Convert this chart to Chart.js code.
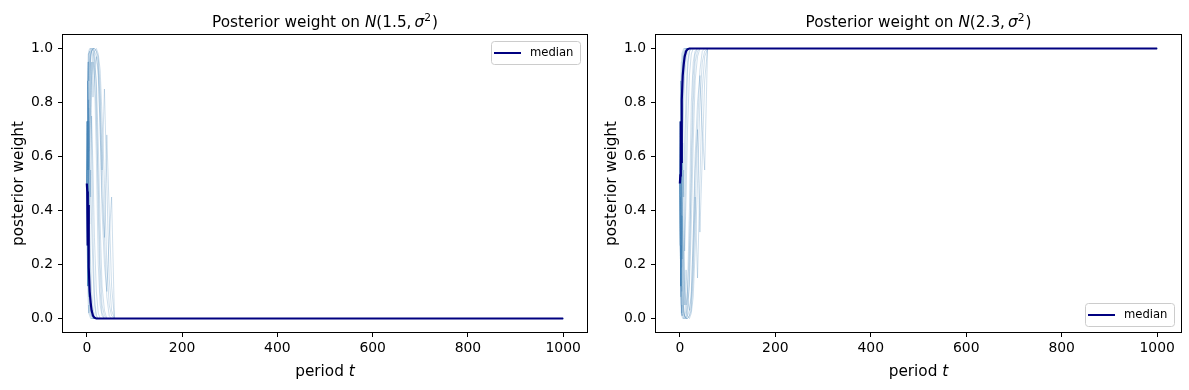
<!DOCTYPE html>
<html>
<head>
<meta charset="utf-8">
<script src="https://cdn.jsdelivr.net/npm/chart.js@4.4.1/dist/chart.umd.min.js"></script>
<style>
  html, body { margin: 0; padding: 0; background: #fff; }
  #wrap { position: relative; width: 1189px; height: 390px; overflow: hidden; }
  canvas { position: absolute; top: 0; }
</style>
</head>
<body>
<div id="wrap">
  <canvas id="left" width="593" height="390" style="left:0"></canvas>
  <canvas id="right" width="596" height="390" style="left:593px"></canvas>
</div>
<script>
// periods t at which each simulated path is sampled (flat after the last early point)
const periods = [0, 1, 2, 3, 4, 6, 8, 10, 13, 16, 20, 24, 28, 32, 37, 42, 47, 52, 58, 1000];

const xTicks = [0, 200, 400, 600, 800, 1000];
const yTicks = [0, 0.2, 0.4, 0.6, 0.8, 1.0];
const titleMeans = ['1.5', '2.3'];
const medianLabel = 'median';

// posterior weight on N(1.5, sigma^2), one row per simulated path
const pathsLow = [
    [0.5, 0.73, 0.92, 0.98, 0.99, 1.0, 1.0, 0.99, 0.97, 0.9, 0.6, 0.2, 0.05, 0.01, 0, 0, 0, 0, 0, 0],
    [0.5, 0.27, 0.45, 0.19, 0.08, 0.02, 0.01, 0, 0, 0, 0, 0, 0, 0, 0, 0, 0, 0, 0, 0],
    [0.5, 0.73, 0.55, 0.81, 0.62, 0.85, 0.95, 0.99, 1.0, 0.98, 0.85, 0.4, 0.1, 0.02, 0, 0, 0, 0, 0, 0],
    [0.5, 0.27, 0.12, 0.27, 0.45, 0.62, 0.45, 0.75, 0.55, 0.3, 0.1, 0.02, 0, 0, 0, 0, 0, 0, 0, 0],
    [0.5, 0.73, 0.88, 0.73, 0.9, 0.97, 0.99, 1.0, 1.0, 1.0, 0.99, 0.95, 0.8, 0.55, 0.85, 0.5, 0.15, 0.03, 0, 0],
    [0.5, 0.27, 0.45, 0.62, 0.45, 0.27, 0.12, 0.05, 0.01, 0, 0, 0, 0, 0, 0, 0, 0, 0, 0, 0],
    [0.5, 0.73, 0.55, 0.35, 0.55, 0.73, 0.88, 0.95, 0.82, 0.93, 0.97, 0.9, 0.7, 0.45, 0.3, 0.68, 0.4, 0.12, 0, 0],
    [0.5, 0.73, 0.88, 0.95, 0.98, 0.99, 0.95, 0.7, 0.3, 0.08, 0.01, 0, 0, 0, 0, 0, 0, 0, 0, 0],
    [0.5, 0.27, 0.45, 0.62, 0.78, 0.9, 0.97, 0.99, 1.0, 0.99, 0.97, 0.92, 0.7, 0.4, 0.2, 0.1, 0.3, 0.45, 0, 0],
    [0.5, 0.27, 0.12, 0.05, 0.02, 0.01, 0, 0, 0, 0, 0, 0, 0, 0, 0, 0, 0, 0, 0, 0],
    [0.5, 0.73, 0.55, 0.73, 0.55, 0.35, 0.55, 0.35, 0.18, 0.05, 0.01, 0, 0, 0, 0, 0, 0, 0, 0, 0],
    [0.5, 0.73, 0.88, 0.95, 0.88, 0.95, 0.98, 0.99, 1.0, 1.0, 0.99, 0.97, 0.85, 0.6, 0.3, 0.08, 0.01, 0, 0, 0],
    [0.5, 0.27, 0.45, 0.27, 0.45, 0.62, 0.78, 0.88, 0.95, 0.9, 0.75, 0.5, 0.2, 0.05, 0.01, 0, 0, 0, 0, 0],
    [0.5, 0.73, 0.88, 0.73, 0.55, 0.35, 0.2, 0.1, 0.04, 0.01, 0, 0, 0, 0, 0, 0, 0, 0, 0, 0],
    [0.5, 0.27, 0.45, 0.62, 0.78, 0.62, 0.78, 0.9, 0.97, 0.99, 1.0, 0.98, 0.92, 0.75, 0.5, 0.2, 0.05, 0.01, 0, 0],
    [0.5, 0.73, 0.88, 0.95, 0.98, 0.99, 1.0, 1.0, 0.99, 0.96, 0.88, 0.65, 0.35, 0.12, 0.03, 0, 0, 0, 0, 0],
    [0.5, 0.27, 0.12, 0.27, 0.12, 0.05, 0.02, 0.01, 0, 0, 0, 0, 0, 0, 0, 0, 0, 0, 0, 0],
    [0.5, 0.73, 0.55, 0.35, 0.2, 0.08, 0.03, 0.01, 0, 0, 0, 0, 0, 0, 0, 0, 0, 0, 0, 0]
];
const medianLow = [0.5, 0.47, 0.27, 0.42, 0.19, 0.1, 0.06, 0.03, 0.01, 0.003, 0, 0, 0, 0, 0, 0, 0, 0, 0, 0];

// posterior weight on N(2.3, sigma^2)
const pathsHigh = [
    [0.5, 0.27, 0.08, 0.02, 0.01, 0, 0, 0.01, 0.03, 0.1, 0.4, 0.8, 0.95, 0.99, 1, 1, 1, 1, 1, 1],
    [0.5, 0.73, 0.55, 0.81, 0.92, 0.98, 0.99, 1, 1, 1, 1, 1, 1, 1, 1, 1, 1, 1, 1, 1],
    [0.5, 0.27, 0.45, 0.19, 0.38, 0.15, 0.05, 0.01, 0, 0.02, 0.15, 0.6, 0.9, 0.98, 1, 1, 1, 1, 1, 1],
    [0.5, 0.73, 0.88, 0.73, 0.55, 0.38, 0.55, 0.25, 0.45, 0.7, 0.9, 0.98, 1, 1, 1, 1, 1, 1, 1, 1],
    [0.5, 0.27, 0.12, 0.27, 0.1, 0.03, 0.01, 0, 0, 0, 0.01, 0.05, 0.2, 0.45, 0.15, 0.5, 0.85, 0.97, 1, 1],
    [0.5, 0.73, 0.55, 0.38, 0.55, 0.73, 0.88, 0.95, 0.99, 1, 1, 1, 1, 1, 1, 1, 1, 1, 1, 1],
    [0.5, 0.27, 0.45, 0.65, 0.45, 0.27, 0.12, 0.05, 0.18, 0.07, 0.03, 0.1, 0.3, 0.55, 0.7, 0.32, 0.6, 0.88, 1, 1],
    [0.5, 0.27, 0.12, 0.05, 0.02, 0.01, 0.05, 0.3, 0.7, 0.92, 0.99, 1, 1, 1, 1, 1, 1, 1, 1, 1],
    [0.5, 0.73, 0.55, 0.38, 0.22, 0.1, 0.03, 0.01, 0, 0.01, 0.03, 0.08, 0.3, 0.6, 0.8, 0.9, 0.7, 0.55, 1, 1],
    [0.5, 0.73, 0.88, 0.95, 0.98, 0.99, 1, 1, 1, 1, 1, 1, 1, 1, 1, 1, 1, 1, 1, 1],
    [0.5, 0.27, 0.45, 0.27, 0.45, 0.65, 0.45, 0.65, 0.82, 0.95, 0.99, 1, 1, 1, 1, 1, 1, 1, 1, 1],
    [0.5, 0.27, 0.12, 0.05, 0.12, 0.05, 0.02, 0.01, 0, 0, 0.01, 0.03, 0.15, 0.4, 0.7, 0.92, 0.99, 1, 1, 1],
    [0.5, 0.73, 0.55, 0.73, 0.55, 0.38, 0.22, 0.12, 0.05, 0.1, 0.25, 0.5, 0.8, 0.95, 0.99, 1, 1, 1, 1, 1],
    [0.5, 0.27, 0.12, 0.27, 0.45, 0.65, 0.8, 0.9, 0.96, 0.99, 1, 1, 1, 1, 1, 1, 1, 1, 1, 1],
    [0.5, 0.73, 0.55, 0.38, 0.22, 0.38, 0.22, 0.1, 0.03, 0.01, 0, 0.02, 0.08, 0.25, 0.5, 0.8, 0.95, 0.99, 1, 1],
    [0.5, 0.27, 0.12, 0.05, 0.02, 0.01, 0, 0, 0.01, 0.04, 0.12, 0.35, 0.65, 0.88, 0.97, 1, 1, 1, 1, 1],
    [0.5, 0.73, 0.88, 0.73, 0.88, 0.95, 0.98, 0.99, 1, 1, 1, 1, 1, 1, 1, 1, 1, 1, 1, 1],
    [0.5, 0.27, 0.45, 0.65, 0.8, 0.92, 0.97, 0.99, 1, 1, 1, 1, 1, 1, 1, 1, 1, 1, 1, 1]
];
const medianHigh = [0.5, 0.53, 0.73, 0.58, 0.81, 0.9, 0.94, 0.97, 0.99, 0.997, 1, 1, 1, 1, 1, 1, 1, 1, 1, 1];

const FONT = '"DejaVu Sans", sans-serif';
const NAVY = '#000080';
const PATH_COLOR = 'rgba(70, 130, 180, 0.26)';

// ============ HELPERS ============

function toPoints(values) {
    return periods.map((t, i) => ({ x: t, y: values[i] }));
}

function buildDatasets(paths, median) {
    // index 0 is drawn last, so the median sits on top
    const sets = [{
        label: medianLabel,
        data: toPoints(median),
        borderColor: NAVY,
        borderWidth: 2.2,
        pointRadius: 0,
    }];
    paths.forEach((p, i) => {
        sets.push({
            label: 'path ' + (i + 1),
            data: toPoints(p),
            borderColor: PATH_COLOR,
            borderWidth: 1,
            pointRadius: 0,
        });
    });
    return sets;
}

function drawRich(ctx, parts, cx, y) {
    let total = 0;
    const widths = parts.map(p => {
        ctx.font = p.font;
        const w = ctx.measureText(p.text).width + (p.dx || 0);
        total += w;
        return w;
    });
    let x = cx - total / 2;
    ctx.textAlign = 'left';
    ctx.textBaseline = 'alphabetic';
    ctx.fillStyle = '#000';
    parts.forEach((p, i) => {
        ctx.font = p.font;
        ctx.fillText(p.text, x + (p.dx || 0), y + (p.dy || 0));
        x += widths[i];
    });
}

function titleParts(mean) {
    return [
        { text: 'Posterior weight on ', font: `15.3px ${FONT}` },
        { text: 'N', font: `italic 15.3px ${FONT}` },
        { text: `(${mean},`, font: `15.3px ${FONT}` },
        { text: '\u03c3', font: `italic 15.3px ${FONT}`, dx: 3 },
        { text: '2', font: `10.7px ${FONT}`, dy: -6 },
        { text: ')', font: `15.3px ${FONT}`, dx: 1 },
    ];
}

const xLabelParts = [
    { text: 'period ', font: `15.3px ${FONT}` },
    { text: 't', font: `italic 15.3px ${FONT}` },
];

function decorations(mean, legendAtTop) {
    return {
        id: 'decorations',
        afterDraw(chart) {
            const { ctx, chartArea: a } = chart;
            const cx = (a.left + a.right) / 2;
            ctx.save();

            // axes frame
            ctx.strokeStyle = '#000';
            ctx.lineWidth = 1;
            ctx.strokeRect(Math.round(a.left) - 0.5, Math.round(a.top) - 0.5,
                Math.round(a.right - a.left) + 1, Math.round(a.bottom - a.top) + 1);

            drawRich(ctx, titleParts(mean), cx, 27);
            drawRich(ctx, xLabelParts, cx, 376);

            // legend
            const w = 89, h = 23;
            const bx = a.right - 7 - w;
            const by = legendAtTop ? a.top + 6 : a.bottom - 6 - h;
            ctx.beginPath();
            ctx.roundRect(bx + 0.5, by + 0.5, w, h, 3);
            ctx.fillStyle = 'rgba(255,255,255,0.8)';
            ctx.fill();
            ctx.strokeStyle = '#cccccc';
            ctx.stroke();
            const ly = by + h / 2 + 0.5;
            ctx.beginPath();
            ctx.moveTo(bx + 3, ly);
            ctx.lineTo(bx + 30, ly);
            ctx.strokeStyle = NAVY;
            ctx.lineWidth = 2;
            ctx.stroke();
            ctx.font = `11.6px ${FONT}`;
            ctx.fillStyle = '#000';
            ctx.textAlign = 'left';
            ctx.textBaseline = 'middle';
            ctx.fillText(medianLabel, bx + 39, ly);

            ctx.restore();
        }
    };
}

function axisGrid() {
    return {
        drawOnChartArea: false,
        drawTicks: true,
        tickLength: 5,
        tickColor: '#000',
        color: '#000',
        lineWidth: 1,
    };
}

function createChart(canvasId, paths, median, mean, legendAtTop, padRight) {
    return new Chart(document.getElementById(canvasId), {
        type: 'line',
        data: { datasets: buildDatasets(paths, median) },
        options: {
            responsive: false,
            animation: false,
            events: [],
            layout: { padding: { left: 0, right: padRight, top: 35, bottom: 0 } },
            plugins: {
                legend: { display: false },
                title: { display: false },
                tooltip: { enabled: false },
            },
            scales: {
                x: {
                    type: 'linear',
                    min: -50,
                    max: 1050,
                    afterBuildTicks: s => { s.ticks = xTicks.map(v => ({ value: v })); },
                    afterFit: s => { s.height = 58; },
                    ticks: {
                        font: { family: FONT, size: 13.9 },
                        color: '#000',
                        padding: 3,
                        maxRotation: 0,
                        callback: v => String(v),
                    },
                    grid: axisGrid(),
                    border: { display: false },
                },
                y: {
                    type: 'linear',
                    min: -0.05,
                    max: 1.05,
                    afterBuildTicks: s => { s.ticks = yTicks.map(v => ({ value: v })); },
                    afterFit: s => { s.width = 63; },
                    ticks: {
                        font: { family: FONT, size: 13.9 },
                        color: '#000',
                        padding: 5,
                        callback: v => Number(v).toFixed(1),
                    },
                    title: {
                        display: true,
                        text: 'posterior weight',
                        font: { family: FONT, size: 15.3 },
                        color: '#000',
                        padding: { top: 10, bottom: 0 },
                    },
                    grid: axisGrid(),
                    border: { display: false },
                },
            },
        },
        plugins: [decorations(mean, legendAtTop)],
    });
}

createChart('left', pathsLow, medianLow, titleMeans[0], true, 6);
createChart('right', pathsHigh, medianHigh, titleMeans[1], false, 8);
</script>
</body>
</html>
